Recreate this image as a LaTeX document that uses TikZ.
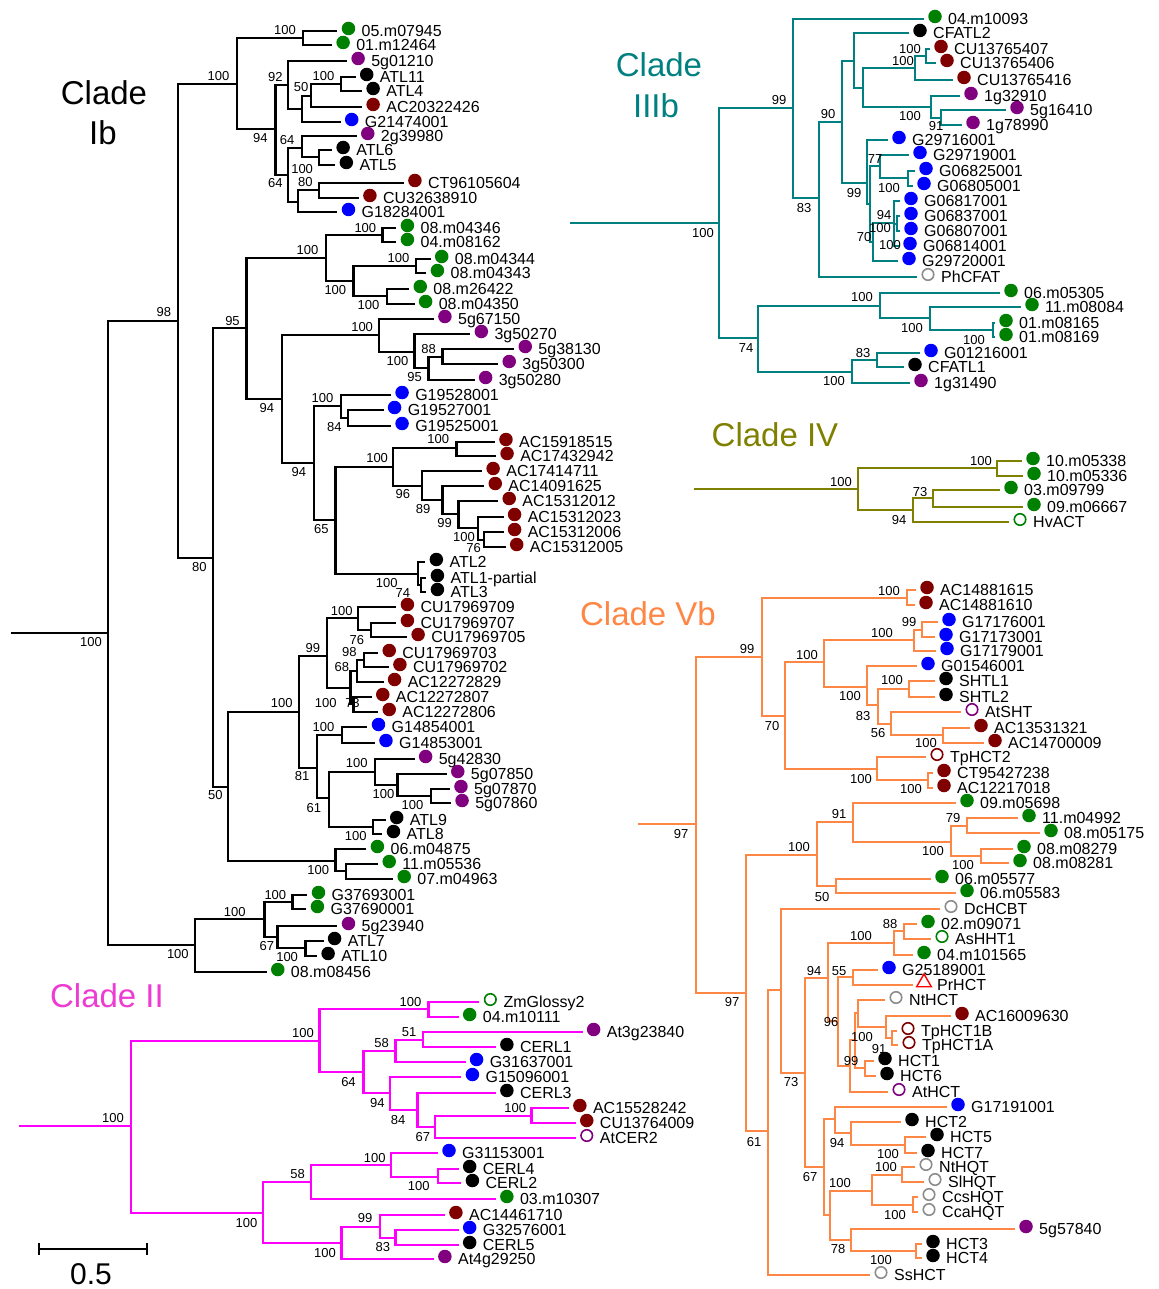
\documentclass[tikz,border=0pt]{standalone}
\usepackage{fontspec}
\setmainfont{Liberation Sans}
\usetikzlibrary{calc,shapes.geometric}
\definecolor{cgr}{RGB}{0,128,0}
\definecolor{cdr}{RGB}{128,0,0}
\definecolor{cpu}{RGB}{128,0,128}
\definecolor{cbl}{RGB}{0,0,255}
\definecolor{cgy}{RGB}{140,140,140}
\definecolor{cmg}{RGB}{255,0,255}
\definecolor{cmgt}{RGB}{238,60,210}
\definecolor{ctl}{RGB}{0,128,128}
\definecolor{col}{RGB}{128,128,0}
\definecolor{cor}{RGB}{255,135,70}
\newcounter{bsc}
\def\sx{1}
\def\tc{black}
\def\Nd#1#2#3{\coordinate (#1) at ({#2*\sx},#3);}
\def\Lf#1#2#3#4#5{\coordinate (#1) at ({#2*\sx},#3);\node[#4] (#1d) at ($(#1)+(11,-2.5)$) {};\node[lbl] (#1t) at ($(#1)+(24,5.5)$) {#5};}
\def\Ed#1#2{\foreach \ch in {#2}{\draw[br] (#1) |- (\ch);}}
\def\Bt#1#2#3{\stepcounter{bsc}\node[bsl] (b\arabic{bsc}) at ({#1*\sx},#2) {#3};}
\tikzset{
 fd/.style={circle,inner sep=0pt,minimum size=13.5pt,fill=#1,draw=none},
 od/.style={circle,inner sep=0pt,minimum size=11.5pt,draw=#1,line width=1.6pt,fill=white},
 tri/.style={regular polygon,regular polygon sides=3,inner sep=0pt,minimum size=17pt,draw=red,line width=1.4pt},
 lbl/.style={anchor=base west,inner sep=0pt,font=\fontsize{16}{17}\selectfont},
 bsl/.style={inner sep=0pt,font=\fontsize{13}{14}\selectfont},
 ttl/.style={inner sep=0pt,font=\fontsize{33}{36}\selectfont},
 br/.style={draw=\tc,line width=2.4pt}
}
\begin{document}
\begin{tikzpicture}[x=1pt,y=-1pt]
\useasboundingbox (0,0) rectangle (1158,1289);
\fill[white] (0,0) rectangle (1158,1289);
% ================= Clade Ib =================
\def\sx{1.0714}\def\tc{black}
\coordinate (IS) at ({10*\sx},633);
\Nd{I0}{101}{633}\Nd{I98}{166}{321}\Nd{Iz}{182}{945}\Nd{IA}{221}{84}\Nd{I80}{199}{558}
\Nd{IB}{283}{38}\Nd{I94t}{257}{129}\Nd{I92}{269}{85}\Nd{I845}{282}{109}\Nd{I50}{290}{96}
\Nd{IAT}{318}{84}\Nd{I64l}{269}{175}\Nd{I64u}{282}{148}\Nd{I56}{298}{157}\Nd{I835}{278}{202}\Nd{I80b}{298}{190}
\Lf{a1}{315}{31}{fd=cgr}{05.m07945}
\Lf{a2}{310}{45}{fd=cgr}{01.m12464}
\Lf{a3}{324}{61}{fd=cpu}{5g01210}
\Lf{a4}{332}{77}{fd=black}{ATL11}
\Lf{a5}{338}{91}{fd=black}{ATL4}
\Lf{a6}{338}{107}{fd=cdr}{AC20322426}
\Lf{a7}{318}{122}{fd=cbl}{G21474001}
\Lf{a8}{333}{136}{fd=cpu}{2g39980}
\Lf{a9}{310}{150}{fd=black}{ATL6}
\Lf{a10}{313}{165}{fd=black}{ATL5}
\Lf{a11}{377}{183}{fd=cdr}{CT96105604}
\Lf{a12}{335}{198}{fd=cdr}{CU32638910}
\Lf{a13}{315}{212}{fd=cbl}{G18284001}
\draw[br] (IS) -- (I0);
\Ed{I0}{I98,Iz}\Ed{I98}{IA,I80}\Ed{IA}{IB,I94t}\Ed{IB}{a1,a2}\Ed{I94t}{I92,I64l}
\Ed{I92}{a3,I845}\Ed{I845}{I50,a7}\Ed{I50}{IAT,a6}\Ed{IAT}{a4,a5}\Ed{I64l}{I64u,I835}
\Ed{I64u}{a8,I56}\Ed{I56}{a9,a10}\Ed{I835}{I80b,a13}\Ed{I80b}{a11,a12}
\Nd{I95}{230}{328}\Nd{I50b}{213}{787}\Nd{I08}{304}{258}\Nd{I94a}{263}{399}\Nd{Ia100}{357}{235}
\Nd{I330}{330}{281}\Nd{I388}{388}{266}\Nd{I361}{361}{296}
\Lf{b1}{370}{228}{fd=cgr}{08.m04346}
\Lf{b2}{370}{242}{fd=cgr}{04.m08162}
\Lf{b3}{402}{259}{fd=cgr}{08.m04344}
\Lf{b4}{398}{273}{fd=cgr}{08.m04343}
\Lf{b5}{382}{289}{fd=cgr}{08.m26422}
\Lf{b6}{387}{304}{fd=cgr}{08.m04350}
\Ed{I80}{I95,I50b}\Ed{I95}{I08,I94a}\Ed{I08}{Ia100,I330}\Ed{Ia100}{b1,b2}\Ed{I330}{I388,I361}
\Ed{I388}{b3,b4}\Ed{I361}{b5,b6}
\Nd{I5g}{354}{335}\Nd{I94b}{293}{463}\Nd{Ic100}{387}{352}\Nd{I95c}{400}{368}\Nd{I88}{413}{357}
\Lf{c1}{405}{319}{fd=cpu}{5g67150}
\Lf{c2}{439}{334}{fd=cpu}{3g50270}
\Lf{c3}{480}{349}{fd=cpu}{5g38130}
\Lf{c4}{465}{364}{fd=cpu}{3g50300}
\Lf{c5}{443}{380}{fd=cpu}{3g50280}
\Ed{I94a}{I5g,I94b}\Ed{I5g}{c1,Ic100}\Ed{Ic100}{c2,I95c}\Ed{I95c}{I88,c5}\Ed{I88}{c3,c4}
\Nd{IG}{318}{406}\Nd{I84}{325}{418}\Nd{I65}{313}{520}
\Lf{d1}{365}{395}{fd=cbl}{G19528001}
\Lf{d2}{358}{410}{fd=cbl}{G19527001}
\Lf{d3}{365}{426}{fd=cbl}{G19525001}
\Ed{I94b}{IG,I65}\Ed{IG}{d1,I84}\Ed{I84}{d2,d3}
\Nd{IAC}{367}{467}\Nd{IAC1}{426}{448}\Nd{I96}{394}{486}\Nd{I89}{413}{500}\Nd{I99}{428}{514}
\Nd{Id100}{446}{528}\Nd{I76}{452}{540}\Nd{IATb}{390}{574}\Nd{I74}{393}{585}
\Lf{e1}{462}{442}{fd=cdr}{AC15918515}
\Lf{e2}{463}{456}{fd=cdr}{AC17432942}
\Lf{e3}{450}{471}{fd=cdr}{AC17414711}
\Lf{e4}{452}{486}{fd=cdr}{AC14091625}
\Lf{e5}{465}{501}{fd=cdr}{AC15312012}
\Lf{e6}{470}{517}{fd=cdr}{AC15312023}
\Lf{e7}{470}{532}{fd=cdr}{AC15312006}
\Lf{e8}{472}{547}{fd=cdr}{AC15312005}
\Lf{e9}{397}{562}{fd=black}{ATL2}
\Lf{e10}{398}{578}{fd=black}{ATL1-partial}
\Lf{e11}{398}{592}{fd=black}{ATL3}
\Ed{I65}{IAC,IATb}\Ed{IAC}{IAC1,I96}\Ed{IAC1}{e1,e2}\Ed{I96}{e3,I89}\Ed{I89}{e4,I99}
\Ed{I99}{e5,Id100}\Ed{Id100}{e6,I76}\Ed{I76}{e7,e8}\Ed{IATb}{e9,I74}\Ed{I74}{e10,e11}
\Nd{Ie100}{279}{712}\Nd{I06}{313}{861}\Nd{I99b}{305}{656}\Nd{I81}{296}{768}\Nd{If100}{334}{618}
\Nd{I76b}{346}{630}\Nd{Ig100}{327}{688}\Nd{I68}{333}{671}\Nd{I98b}{340}{660}\Nd{I73}{330}{704}
\Lf{f1}{370}{607}{fd=cdr}{CU17969709}
\Lf{f2}{370}{623}{fd=cdr}{CU17969707}
\Lf{f3}{380}{637}{fd=cdr}{CU17969705}
\Lf{f4}{353}{653}{fd=cdr}{CU17969703}
\Lf{f5}{363}{667}{fd=cdr}{CU17969702}
\Lf{f6}{358}{682}{fd=cdr}{AC12272829}
\Lf{f7}{347}{697}{fd=cdr}{AC12272807}
\Lf{f8}{353}{712}{fd=cdr}{AC12272806}
\Ed{I50b}{Ie100,I06}\Ed{Ie100}{I99b,I81}\Ed{I99b}{If100,Ig100}\Ed{If100}{f1,I76b}\Ed{I76b}{f2,f3}
\Ed{Ig100}{I68,I73}\Ed{I68}{I98b,f6}\Ed{I98b}{f4,f5}\Ed{I73}{f7,f8}
\Nd{Ih100}{319}{735}\Nd{I61}{307}{798}\Nd{Ii100}{350}{772}\Nd{Ij100}{371}{785}\Nd{Ik100}{402}{796}
\Nd{IAT89}{348}{827}\Nd{I06b}{323}{871}
\Lf{g1}{343}{727}{fd=cbl}{G14854001}
\Lf{g2}{350}{743}{fd=cbl}{G14853001}
\Lf{g3}{387}{759}{fd=cpu}{5g42830}
\Lf{g4}{417}{774}{fd=cpu}{5g07850}
\Lf{g5}{420}{789}{fd=cpu}{5g07870}
\Lf{g6}{421}{803}{fd=cpu}{5g07860}
\Lf{g7}{360}{820}{fd=black}{ATL9}
\Lf{g8}{357}{834}{fd=black}{ATL8}
\Lf{g9}{342}{849}{fd=cgr}{06.m04875}
\Lf{g10}{353}{864}{fd=cgr}{11.m05536}
\Lf{g11}{367}{879}{fd=cgr}{07.m04963}
\Ed{I81}{Ih100,I61}\Ed{Ih100}{g1,g2}\Ed{I61}{Ii100,IAT89}\Ed{Ii100}{g3,Ij100}\Ed{Ij100}{g4,Ik100}
\Ed{Ik100}{g5,g6}\Ed{IAT89}{g7,g8}\Ed{I06}{g9,I06b}\Ed{I06b}{g10,g11}
\Nd{Il100}{247}{919}\Nd{Im100}{273}{902}\Nd{I67}{259}{937}\Nd{In100}{285}{948}
\Lf{h1}{287}{895}{fd=cgr}{G37693001}
\Lf{h2}{286}{909}{fd=cgr}{G37690001}
\Lf{h3}{315}{926}{fd=cpu}{5g23940}
\Lf{h4}{302}{941}{fd=black}{ATL7}
\Lf{h5}{296}{956}{fd=black}{ATL10}
\Lf{h6}{249}{972}{fd=cgr}{08.m08456}
\Ed{Iz}{Il100,h6}\Ed{Il100}{Im100,I67}\Ed{Im100}{h1,h2}\Ed{I67}{h3,In100}\Ed{In100}{h4,h5}
\Bt{85}{642}{100}\Bt{153}{312}{98}\Bt{266}{30}{100}\Bt{204}{76}{100}\Bt{257}{77}{92}
\Bt{302}{76}{100}\Bt{281}{87}{50}\Bt{243}{138}{94}\Bt{268}{140}{64}\Bt{282}{169}{100}
\Bt{257}{183}{64}\Bt{285}{182}{80}\Bt{341}{228}{100}\Bt{287}{250}{100}\Bt{372}{258}{100}
\Bt{313}{290}{100}\Bt{344}{305}{100}\Bt{217}{321}{95}\Bt{338}{327}{100}\Bt{371}{361}{100}
\Bt{400}{349}{88}\Bt{387}{377}{95}\Bt{249}{408}{94}\Bt{301}{398}{100}\Bt{312}{427}{84}
\Bt{279}{472}{94}\Bt{352}{458}{100}\Bt{409}{439}{100}\Bt{376}{494}{96}\Bt{395}{509}{89}
\Bt{415}{523}{99}\Bt{433}{537}{100}\Bt{442}{548}{76}\Bt{300}{529}{65}\Bt{361}{583}{100}
\Bt{376}{593}{74}\Bt{186}{567}{80}\Bt{319}{611}{100}\Bt{333}{640}{76}\Bt{292}{648}{99}
\Bt{326}{652}{98}\Bt{319}{667}{68}\Bt{304}{703}{100}\Bt{329}{703}{73}\Bt{263}{703}{100}
\Bt{201}{795}{50}\Bt{302}{727}{100}\Bt{282}{776}{81}\Bt{333}{763}{100}\Bt{358}{794}{100}
\Bt{385}{805}{100}\Bt{293}{808}{61}\Bt{332}{836}{100}\Bt{297}{870}{100}\Bt{166}{954}{100}
\Bt{219}{912}{100}\Bt{257}{895}{100}\Bt{249}{946}{67}\Bt{268}{957}{100}
\node[ttl] (tIb1) at (104,93) {Clade};
\node[ttl] (tIb2) at (103,133) {Ib};
% ================= Clade II =================
\def\sx{1.3774}\def\tc{cmg}
\coordinate (IIS) at ({14*\sx},1126);
\Nd{II0}{95}{1126}\Nd{IIA}{232}{1041}\Nd{IIB}{191}{1213}\Nd{IIz}{311}{1009}\Nd{II64}{264}{1072}
\Nd{II58}{287}{1051}\Nd{II51}{307}{1040}\Nd{II94}{283}{1093}\Nd{II84}{303}{1110}\Nd{II67}{316}{1127}
\Nd{IIq}{386}{1116}\Nd{II58b}{226}{1182}\Nd{IIs}{284}{1165}\Nd{IIt}{318}{1177}\Nd{IIr}{248}{1243}
\Nd{II99}{276}{1227}\Nd{II83}{287}{1238}
\Lf{k1}{348}{1002}{od=cgr}{ZmGlossy2}
\Lf{k2}{333}{1017}{fd=cgr}{04.m10111}
\Lf{k3}{423}{1032}{fd=cpu}{At3g23840}
\Lf{k4}{360}{1047}{fd=black}{CERL1}
\Lf{k5}{338}{1062}{fd=cbl}{G31637001}
\Lf{k6}{335}{1077}{fd=cbl}{G15096001}
\Lf{k7}{360}{1093}{fd=black}{CERL3}
\Lf{k8}{413}{1108}{fd=cdr}{AC15528242}
\Lf{k9}{418}{1123}{fd=cdr}{CU13764009}
\Lf{k10}{418}{1138}{od=cpu}{AtCER2}
\Lf{k11}{318}{1153}{fd=cbl}{G31153001}
\Lf{k12}{333}{1169}{fd=black}{CERL4}
\Lf{k13}{335}{1183}{fd=black}{CERL2}
\Lf{k14}{360}{1199}{fd=cgr}{03.m10307}
\Lf{k15}{323}{1215}{fd=cdr}{AC14461710}
\Lf{k16}{333}{1230}{fd=cbl}{G32576001}
\Lf{k17}{333}{1245}{fd=black}{CERL5}
\Lf{k18}{315}{1259}{fd=cpu}{At4g29250}
\draw[br] (IIS) -- (II0);
\Ed{II0}{IIA,IIB}\Ed{IIA}{IIz,II64}\Ed{IIz}{k1,k2}\Ed{II64}{II58,II94}\Ed{II58}{II51,k5}
\Ed{II51}{k3,k4}\Ed{II94}{k6,II84}\Ed{II84}{k7,II67}\Ed{II67}{IIq,k10}\Ed{IIq}{k8,k9}
\Ed{IIB}{II58b,IIr}\Ed{II58b}{IIs,k14}\Ed{IIs}{k11,IIt}\Ed{IIt}{k12,k13}\Ed{IIr}{II99,k18}
\Ed{II99}{k15,II83}\Ed{II83}{k16,k17}
\Bt{82}{1118}{100}\Bt{220}{1033}{100}\Bt{298}{1002}{100}\Bt{297}{1032}{51}\Bt{277}{1043}{58}
\Bt{253}{1082}{64}\Bt{274}{1103}{94}\Bt{289}{1120}{84}\Bt{307}{1137}{67}\Bt{374}{1108}{100}
\Bt{216}{1174}{58}\Bt{272}{1158}{100}\Bt{304}{1186}{100}\Bt{179}{1223}{100}\Bt{265}{1218}{99}
\Bt{278}{1247}{83}\Bt{236}{1253}{100}
\node[ttl,text=cmgt] (tII) at (107,996) {Clade II};
% scale bar
\coordinate (sb1) at (39,1249);\coordinate (sb2) at (147,1249);
\draw[line width=2.4pt] (sb1) -- (sb2);
\draw[line width=2.4pt] ($(sb1)+(0,-6)$) -- ($(sb1)+(0,6)$);
\draw[line width=2.4pt] ($(sb2)+(0,-6)$) -- ($(sb2)+(0,6)$);
\node[inner sep=0pt,font=\fontsize{30}{32}\selectfont] (sbl) at (91,1274) {0.5};
% ================= Clade IIIb =================
\def\sx{1}\def\tc{ctl}
\coordinate (TS) at (570,223);
\Nd{T0}{719}{223}\Nd{T99}{793}{108}\Nd{T74}{758}{338}\Nd{T83}{819}{198}\Nd{T90}{842}{122}
\Nd{T770}{854}{61}\Nd{T99b}{867}{183}\Nd{T795}{863}{88}\Nd{Ta}{915}{68}\Nd{Tb}{931}{107}
\Nd{Tc}{926}{56}\Nd{T91}{941}{118}\Nd{Ts}{870}{204}\Nd{T77}{880}{166}\Nd{Tp}{908}{178}
\Nd{T70}{873}{242}\Nd{Tx}{894}{223}\Nd{T94}{897}{224}\Nd{Td}{880}{306}\Nd{Tf}{930}{318}
\Nd{Tg}{993}{330}\Nd{Te}{852}{372}\Nd{T83b}{877}{360}
\Lf{m1}{924}{19}{fd=cgr}{04.m10093}
\Lf{m2}{909}{33}{fd=black}{CFATL2}
\Lf{m3}{930}{49}{fd=cdr}{CU13765407}
\Lf{m4}{936}{63}{fd=cdr}{CU13765406}
\Lf{m5}{953}{80}{fd=cdr}{CU13765416}
\Lf{m6}{960}{96}{fd=cpu}{1g32910}
\Lf{m7}{1006}{110}{fd=cpu}{5g16410}
\Lf{m8}{962}{125}{fd=cpu}{1g78990}
\Lf{m9}{888}{140}{fd=cbl}{G29716001}
\Lf{m10}{909}{155}{fd=cbl}{G29719001}
\Lf{m11}{915}{171}{fd=cbl}{G06825001}
\Lf{m12}{913}{186}{fd=cbl}{G06805001}
\Lf{m13}{900}{201}{fd=cbl}{G06817001}
\Lf{m14}{900}{216}{fd=cbl}{G06837001}
\Lf{m15}{900}{231}{fd=cbl}{G06807001}
\Lf{m16}{899}{246}{fd=cbl}{G06814001}
\Lf{m17}{898}{261}{fd=cbl}{G29720001}
\Lf{m18}{917}{277}{od=cgy}{PhCFAT}
\Lf{m19}{1000}{293}{fd=cgr}{06.m05305}
\Lf{m20}{1021}{307}{fd=cgr}{11.m08084}
\Lf{m21}{995}{323}{fd=cgr}{01.m08165}
\Lf{m22}{995}{337}{fd=cgr}{01.m08169}
\Lf{m23}{920}{353}{fd=cbl}{G01216001}
\Lf{m24}{904}{367}{fd=black}{CFATL1}
\Lf{m25}{910}{383}{fd=cpu}{1g31490}
\draw[br] (TS) -- (T0);
\Ed{T0}{T99,T74}\Ed{T99}{m1,T83}\Ed{T83}{T90,m18}\Ed{T90}{T770,T99b}\Ed{T770}{m2,T795}
\Ed{T795}{Ta,Tb}\Ed{Ta}{Tc,m5}\Ed{Tc}{m3,m4}\Ed{Tb}{m6,T91}\Ed{T91}{m7,m8}
\Ed{T99b}{m9,Ts}\Ed{Ts}{T77,T70}\Ed{T77}{m10,Tp}\Ed{Tp}{m11,m12}\Ed{T70}{Tx,m17}
\Ed{Tx}{m13,T94,m16}\Ed{T94}{m14,m15}\Ed{T74}{Td,Te}\Ed{Td}{m19,Tf}\Ed{Tf}{m20,Tg}
\Ed{Tg}{m21,m22}\Ed{Te}{T83b,m25}\Ed{T83b}{m23,m24}
\Bt{703}{233}{100}\Bt{779}{100}{99}\Bt{828}{114}{90}\Bt{910}{49}{100}\Bt{903}{61}{100}
\Bt{910}{116}{100}\Bt{936}{126}{91}\Bt{875}{159}{77}\Bt{889}{188}{100}\Bt{854}{193}{99}
\Bt{804}{208}{83}\Bt{884}{215}{94}\Bt{880}{228}{100}\Bt{864}{237}{70}\Bt{890}{245}{100}
\Bt{862}{297}{100}\Bt{912}{328}{100}\Bt{974}{340}{100}\Bt{746}{348}{74}\Bt{863}{353}{83}
\Bt{834}{381}{100}
\node[ttl,text=ctl] (tIII1) at (659,65) {Clade};
\node[ttl,text=ctl] (tIII2) at (656,106) {IIIb};
% ================= Clade IV =================
\def\tc{col}
\coordinate (FS) at (694,489);
\Nd{F0}{858}{489}\Nd{Fa}{997}{468}\Nd{F94}{913}{510}\Nd{F73}{933}{498}
\Lf{w1}{1022}{461}{fd=cgr}{10.m05338}
\Lf{w2}{1023}{476}{fd=cgr}{10.m05336}
\Lf{w3}{1000}{490}{fd=cgr}{03.m09799}
\Lf{w4}{1023}{507}{fd=cgr}{09.m06667}
\Lf{w5}{1009}{522}{od=cgr}{HvACT}
\draw[br] (FS) -- (F0);
\Ed{F0}{Fa,F94}\Ed{Fa}{w1,w2}\Ed{F94}{F73,w5}\Ed{F73}{w3,w4}
\Bt{841}{482}{100}\Bt{981}{461}{100}\Bt{920}{492}{73}\Bt{899}{520}{94}
\node[ttl,text=col] (tIV) at (775,435) {Clade IV};
% ================= Clade Vb =================
\def\tc{cor}
\coordinate (VS) at (638,824);
\Nd{V0}{696}{824}\Nd{V99}{762}{657}\Nd{V97b}{746}{993}\Nd{Va}{907}{598}\Nd{V70}{785}{716}
\Nd{Vb}{824}{662}\Nd{Vc}{877}{769}\Nd{Vd}{914}{640}\Nd{V99c}{922}{630}\Nd{Ve}{867}{687}
\Nd{V83}{878}{705}\Nd{Vf}{909}{689}\Nd{V56}{891}{724}\Nd{Vac}{943}{735}\Nd{Vg}{928}{780}
\Nd{Vh}{817}{855}\Nd{V61}{768}{1131}\Nd{V91}{853}{822}\Nd{V50}{836}{886}\Nd{Vi}{951}{842}
\Nd{V79}{967}{826}\Nd{Vj}{981}{856}\Nd{Vdc}{781}{990}\Nd{V73}{805}{1073}\Nd{V94}{828}{978}
\Nd{V67}{824}{1167}\Nd{Vk}{894}{943}\Nd{V88}{904}{931}\Nd{V96}{838}{1021}\Nd{V55}{853}{977}
\Nd{Vy}{850}{1066}\Nd{Vx}{855}{1040}\Nd{Vnt}{858}{1013}\Nd{Vac2}{886}{1027}\Nd{Vtp}{892}{1038}
\Nd{V99d}{865}{1068}\Nd{Vg17}{835}{1119}\Nd{V94c}{851}{1133}\Nd{Vm}{905}{1145}\Nd{V78}{830}{1215}
\Nd{Vn}{872}{1191}\Nd{Vo}{902}{1175}\Nd{Vp}{913}{1205}\Nd{V5g}{851}{1240}\Nd{Vq}{916}{1251}
\Lf{v1}{916}{590}{fd=cdr}{AC14881615}
\Lf{v2}{915}{605}{fd=cdr}{AC14881610}
\Lf{v3}{938}{622}{fd=cbl}{G17176001}
\Lf{v4}{935}{637}{fd=cbl}{G17173001}
\Lf{v5}{936}{651}{fd=cbl}{G17179001}
\Lf{v6}{917}{666}{fd=cbl}{G01546001}
\Lf{v7}{935}{681}{fd=black}{SHTL1}
\Lf{v8}{935}{697}{fd=black}{SHTL2}
\Lf{v9}{961}{712}{od=cpu}{AtSHT}
\Lf{v10}{970}{728}{fd=cdr}{AC13531321}
\Lf{v11}{984}{743}{fd=cdr}{AC14700009}
\Lf{v12}{926}{757}{od=cdr}{TpHCT2}
\Lf{v13}{933}{773}{fd=cdr}{CT95427238}
\Lf{v14}{933}{788}{fd=cdr}{AC12217018}
\Lf{v15}{956}{803}{fd=cgr}{09.m05698}
\Lf{v16}{1018}{818}{fd=cgr}{11.m04992}
\Lf{v17}{1040}{833}{fd=cgr}{08.m05175}
\Lf{v18}{1013}{849}{fd=cgr}{08.m08279}
\Lf{v19}{1009}{863}{fd=cgr}{08.m08281}
\Lf{v20}{931}{879}{fd=cgr}{06.m05577}
\Lf{v21}{956}{893}{fd=cgr}{06.m05583}
\Lf{v22}{940}{909}{od=cgy}{DcHCBT}
\Lf{v23}{917}{924}{fd=cgr}{02.m09071}
\Lf{v24}{931}{939}{od=cgr}{AsHHT1}
\Lf{v25}{913}{955}{fd=cgr}{04.m101565}
\Lf{v26}{878}{970}{fd=cbl}{G25189001}
\Lf{v27}{913}{985}{tri}{PrHCT}
\Lf{v28}{885}{1000}{od=cgy}{NtHCT}
\Lf{v29}{951}{1016}{fd=cdr}{AC16009630}
\Lf{v30}{897}{1031}{od=cdr}{TpHCT1B}
\Lf{v31}{898}{1045}{od=cdr}{TpHCT1A}
\Lf{v32}{874}{1061}{fd=black}{HCT1}
\Lf{v33}{876}{1076}{fd=black}{HCT6}
\Lf{v34}{888}{1092}{od=cpu}{AtHCT}
\Lf{v35}{947}{1107}{fd=cbl}{G17191001}
\Lf{v36}{901}{1122}{fd=black}{HCT2}
\Lf{v37}{926}{1137}{fd=black}{HCT5}
\Lf{v38}{917}{1153}{fd=black}{HCT7}
\Lf{v39}{915}{1167}{od=cgy}{NtHQT}
\Lf{v40}{924}{1182}{od=cgy}{SlHQT}
\Lf{v41}{918}{1197}{od=cgy}{CcsHQT}
\Lf{v42}{918}{1212}{od=cgy}{CcaHQT}
\Lf{v43}{1015}{1229}{fd=cpu}{5g57840}
\Lf{v44}{922}{1244}{fd=black}{HCT3}
\Lf{v45}{922}{1258}{fd=black}{HCT4}
\Lf{v46}{870}{1275}{od=cgy}{SsHCT}
\draw[br] (VS) -- (V0);
\Ed{V0}{V99,V97b}\Ed{V99}{Va,V70}\Ed{Va}{v1,v2}\Ed{V70}{Vb,Vc}\Ed{Vb}{Vd,Ve}
\Ed{Vd}{V99c,v5}\Ed{V99c}{v3,v4}\Ed{Ve}{v6,V83}\Ed{V83}{Vf,V56}\Ed{Vf}{v7,v8}
\Ed{V56}{v9,Vac}\Ed{Vac}{v10,v11}\Ed{Vc}{v12,Vg}\Ed{Vg}{v13,v14}\Ed{V97b}{Vh,V61}
\Ed{Vh}{V91,V50}\Ed{V91}{v15,Vi}\Ed{Vi}{V79,Vj}\Ed{V79}{v16,v17}\Ed{Vj}{v18,v19}
\Ed{V50}{v20,v21}\Ed{V61}{Vdc,v46}\Ed{Vdc}{v22,V73}\Ed{V73}{V94,V67}\Ed{V94}{Vk,V96}
\Ed{Vk}{V88,v25}\Ed{V88}{v23,v24}\Ed{V96}{V55,Vy}\Ed{V55}{v26,v27}\Ed{Vy}{Vx,v34}
\Ed{Vx}{Vnt,V99d}\Ed{Vnt}{v28,Vac2}\Ed{Vac2}{v29,Vtp}\Ed{Vtp}{v30,v31}\Ed{V99d}{v32,v33}
\Ed{V67}{Vg17,V78}\Ed{Vg17}{v35,V94c}\Ed{V94c}{v36,Vm}\Ed{Vm}{v37,v38}\Ed{V78}{Vn,V5g}
\Ed{Vn}{Vo,Vp}\Ed{Vo}{v39,v40}\Ed{Vp}{v41,v42}\Ed{V5g}{v43,Vq}\Ed{Vq}{v44,v45}
\Bt{889}{591}{100}\Bt{747}{649}{99}\Bt{909}{622}{99}\Bt{882}{633}{100}\Bt{807}{655}{100}
\Bt{892}{680}{100}\Bt{850}{696}{100}\Bt{863}{716}{83}\Bt{772}{726}{70}\Bt{878}{733}{56}
\Bt{926}{743}{100}\Bt{861}{779}{100}\Bt{911}{789}{100}\Bt{681}{834}{97}\Bt{839}{814}{91}
\Bt{953}{818}{79}\Bt{799}{847}{100}\Bt{933}{851}{100}\Bt{963}{865}{100}\Bt{822}{897}{50}
\Bt{890}{924}{88}\Bt{861}{936}{100}\Bt{814}{971}{94}\Bt{839}{971}{55}\Bt{732}{1002}{97}
\Bt{831}{1022}{96}\Bt{862}{1037}{100}\Bt{879}{1049}{91}\Bt{851}{1061}{99}\Bt{791}{1082}{73}
\Bt{754}{1142}{61}\Bt{837}{1143}{94}\Bt{888}{1154}{100}\Bt{886}{1167}{100}\Bt{810}{1177}{67}
\Bt{840}{1183}{100}\Bt{895}{1215}{100}\Bt{838}{1249}{78}\Bt{881}{1260}{100}
\node[ttl,text=cor] (tVb) at (648,614) {Clade Vb};
\end{tikzpicture}
\end{document}
